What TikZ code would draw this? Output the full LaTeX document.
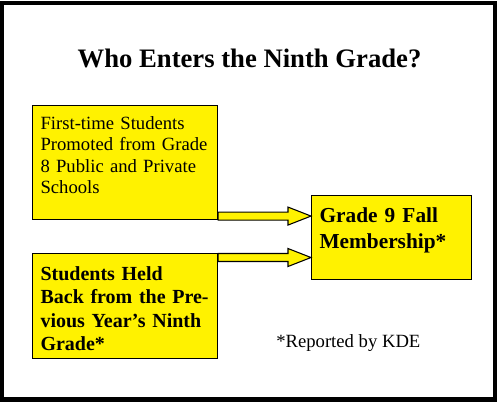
\documentclass[tikz,border=0pt]{standalone}
\usepackage{fontspec}
\setmainfont{Liberation Serif}
\usetikzlibrary{calc}

\tikzset{
  entrybox/.style={draw=black, fill=yellow, line width=.8pt, anchor=north west,
    inner xsep=6pt, inner ysep=0pt, align=left},
  blockarrow/.style={draw=black, fill=yellow, line width=.8pt, line join=miter,
    to path={let \p1=(\tikztostart), \p2=(\tikztotarget) in
      (\x1,{\y1+3pt}) -- ({\x2-17.25pt},{\y1+3pt}) -- ({\x2-17.25pt},{\y1+6.75pt})
      -- (\x2,\y1) -- ({\x2-17.25pt},{\y1-6.75pt}) -- ({\x2-17.25pt},{\y1-3pt})
      -- (\x1,{\y1-3pt}) -- cycle}}
}

\begin{document}
\begin{tikzpicture}[x=0.75pt,y=-0.75pt]
  \useasboundingbox (0,0) rectangle (500,405);
  % draw frame
  \fill[white] (0,0) rectangle (500,405);
  \draw[line width=3.4pt] (2,3) rectangle (495,399.5);

  % draw title
  \draw (249.5,67) node[anchor=base,font={\fontsize{20}{24}\selectfont\bfseries}] (title) {Who Enters the Ninth Grade?};

  % draw boxes
  \draw (32,105) node[entrybox, text width=126.75pt, text height=18pt, text depth=67.5pt,
    font={\fontsize{14}{16}\selectfont}] (firsttime)
    {First-time Students\\Promoted from Grade\\8 Public and Private\\Schools};
  \draw (32,253) node[entrybox, text width=126.75pt, text height=20.25pt, text depth=58.5pt,
    font={\fontsize{15}{17.5}\selectfont\bfseries}] (heldback)
    {Students Held\\Back from the Pre-\\vious Year’s Ninth\\Grade*};
  \draw (311,195) node[entrybox, text width=108pt, text height=20.25pt, text depth=42.75pt,
    font={\fontsize{16}{19.5}\selectfont\bfseries}] (grade)
    {Grade 9 Fall\\Membership*};

  % draw arrows
  \coordinate (a1) at ($(firsttime.south east)+(0,-4)$);
  \coordinate (a2) at ($(heldback.north east)+(0,4.5)$);
  \draw[blockarrow] (a1) to (grade.west |- a1);
  \draw[blockarrow] (a2) to (grade.west |- a2);

  % draw note
  \draw (276,347) node[anchor=base west,inner sep=0pt,font={\fontsize{14}{16}\selectfont}] (note) {*Reported by KDE};
\end{tikzpicture}
\end{document}
